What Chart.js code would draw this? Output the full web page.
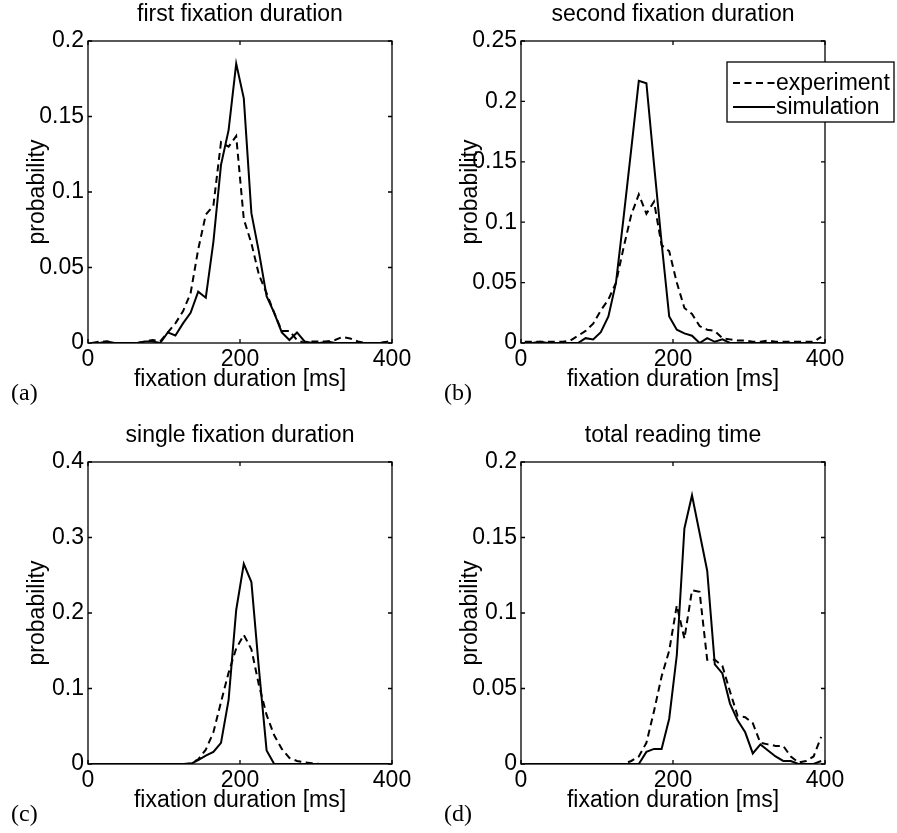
<!DOCTYPE html>
<html><head><meta charset="utf-8">
<script src="https://cdn.jsdelivr.net/npm/chart.js@4.4.1/dist/chart.umd.min.js"></script>
<style>
html,body{margin:0;padding:0;background:#fff;}
body{width:897px;height:833px;position:relative;overflow:hidden;}
canvas{position:absolute;}
</style></head><body>
<canvas id="ca" width="433" height="412" style="left:0px;top:0px"></canvas>
<canvas id="cb" width="464" height="412" style="left:433px;top:0px"></canvas>
<canvas id="cc" width="433" height="412" style="left:0px;top:421px"></canvas>
<canvas id="cd" width="464" height="412" style="left:433px;top:421px"></canvas>
<script>
// ---- data ----
const xBins = [5,15,25,35,45,55,65,75,85,95,105,115,125,135,145,155,165,175,185,195,
               205,215,225,235,245,255,265,275,285,295,305,315,325,335,345,355,365,375,385,395];
const xTickValues = [0, 200, 400];
const xTickLabels = ['0', '200', '400'];
const seriesNames = ['experiment', 'simulation'];

const titles = ['first fixation duration', 'second fixation duration', 'single fixation duration', 'total reading time'];
const panelLetters = ['(a)', '(b)', '(c)', '(d)'];

const yTicksA = [0, 0.05, 0.1, 0.15, 0.2];
const yLabelsA = ['0', '0.05', '0.1', '0.15', '0.2'];
const yTicksB = [0, 0.05, 0.1, 0.15, 0.2, 0.25];
const yLabelsB = ['0', '0.05', '0.1', '0.15', '0.2', '0.25'];
const yTicksC = [0, 0.1, 0.2, 0.3, 0.4];
const yLabelsC = ['0', '0.1', '0.2', '0.3', '0.4'];
const yTicksD = [0, 0.05, 0.1, 0.15, 0.2];
const yLabelsD = ['0', '0.05', '0.1', '0.15', '0.2'];

const expA = [0,0.001,0.001,0,0,0,0,0.001,0.002,0.001, 0.007,0.013,0.021,0.033,0.062,0.085,0.091,0.133,0.130,0.137,
              0.082,0.066,0.045,0.033,0.020,0.008,0.008,0.002,0,0.001, 0.001,0.001,0.002,0.004,0.003,0.001,0,0,0,0.001];
const simA = [0,0,0.001,0,0,0,0,0.001,0.001,0, 0.007,0.005,0.013,0.020,0.034,0.030,0.067,0.118,0.141,0.185,
              0.162,0.086,0.060,0.031,0.020,0.007,0.002,0.007,0.001,0, 0,0.001,0,0,0,0,0,0,0,0.001];

const expB = [0.001,0.001,0.001,0.001,0.001,0.001,0.002,0.006,0.010,0.016, 0.027,0.036,0.050,0.079,0.106,0.123,0.107,0.117,0.081,0.076,
              0.050,0.029,0.024,0.014,0.011,0.010,0.004,0.003,0.002,0.002, 0.001,0.001,0.002,0.001,0.001,0.001,0.001,0.001,0.001,0.005];
const simB = [0,0,0.001,0,0,0,0,0,0.004,0.003, 0.009,0.022,0.050,0.104,0.160,0.217,0.215,0.148,0.083,0.022,
              0.011,0.008,0.006,0,0.004,0.001,0.003,0,0,0, 0,0,0,0,0,0,0,0,0,0];

const expC = [0,0,0,0,0,0,0,0,0,0, 0,0,0,0.001,0.006,0.019,0.042,0.082,0.121,0.153,
              0.171,0.152,0.104,0.065,0.038,0.020,0.008,0.004,0.002,0.001, 0,0,0,0,0,0,0,0,0,0];
const simC = [0,0,0,0,0,0,0,0,0,0, 0,0,0,0,0.005,0.011,0.016,0.028,0.085,0.204,
              0.265,0.241,0.125,0.018,0,0,0,0,0,0, 0,0,0,0,0,0,0,0,0,0];

const expD = [0,0,0,0,0,0,0,0,0,0, 0,0,0,0,0.002,0.005,0.014,0.035,0.058,0.075,
              0.105,0.083,0.115,0.114,0.069,0.069,0.065,0.048,0.032,0.031, 0.027,0.014,0.013,0.012,0.012,0.005,0.001,0.002,0.005,0.018];
const simD = [0,0,0,0,0,0,0,0,0,0, 0,0,0,0,0,0,0.008,0.010,0.010,0.030,
              0.072,0.156,0.178,0.153,0.128,0.066,0.060,0.040,0.029,0.021, 0.007,0.013,0.009,0.005,0.002,0.002,0,0,0,0.002];

// ---- drawing ----
const SANS = "'Liberation Sans', Arial, Helvetica, sans-serif";
const SERIF = "'Liberation Serif', 'Times New Roman', serif";
Chart.defaults.font.family = SANS;
Chart.defaults.color = '#000';

const matlabFrame = {
  id: 'matlabFrame',
  afterDraw(chart, args, opts) {
    const ctx = chart.ctx;
    const a = chart.chartArea;
    const xs = chart.scales.x, ys = chart.scales.y;
    ctx.save();
    ctx.strokeStyle = '#000';
    ctx.lineWidth = 1.3;
    ctx.strokeRect(a.left, a.top, a.right - a.left, a.bottom - a.top);
    const tl = 4;
    ctx.beginPath();
    xs.ticks.forEach(t => {
      const px = xs.getPixelForValue(t.value);
      ctx.moveTo(px, a.bottom); ctx.lineTo(px, a.bottom - tl);
      ctx.moveTo(px, a.top); ctx.lineTo(px, a.top + tl);
    });
    ys.ticks.forEach(t => {
      const py = ys.getPixelForValue(t.value);
      ctx.moveTo(a.left, py); ctx.lineTo(a.left + tl, py);
      ctx.moveTo(a.right, py); ctx.lineTo(a.right - tl, py);
    });
    ctx.stroke();
    // panel letter
    ctx.fillStyle = '#000';
    ctx.font = '24px ' + SERIF;
    ctx.textAlign = 'left';
    ctx.textBaseline = 'alphabetic';
    ctx.fillText(opts.letter, 11, 400);
    // legend
    if (opts.legend) {
      const bx = a.right - 98, by = a.top + 21, bw = 167, bh = 60;
      ctx.fillStyle = '#fff';
      ctx.fillRect(bx, by, bw, bh);
      ctx.lineWidth = 1.3;
      ctx.strokeRect(bx, by, bw, bh);
      const rows = [by + 21, by + 45];
      chart.data.datasets.forEach((ds, i) => {
        const y = rows[i];
        ctx.beginPath();
        ctx.lineWidth = ds.borderWidth;
        ctx.setLineDash(ds.borderDash || []);
        ctx.moveTo(bx + 6, y); ctx.lineTo(bx + 48, y);
        ctx.stroke();
        ctx.setLineDash([]);
        ctx.fillStyle = '#000';
        ctx.font = '23px ' + SANS;
        ctx.textBaseline = 'middle';
        ctx.fillText(ds.label, bx + 49, y + 1);
      });
    }
    ctx.restore();
  }
};

function pts(vals) { return xBins.map((x, i) => ({x: x, y: vals[i]})); }

function makeChart(id, title, letter, yMax, yTicks, yLabels, exp, sim, legend, rightPad) {
  return new Chart(document.getElementById(id), {
    type: 'line',
    data: {
      datasets: [
        {label: seriesNames[0], data: pts(exp), borderColor: '#000', borderWidth: 2, borderDash: [7, 4.5], pointRadius: 0, tension: 0, fill: false},
        {label: seriesNames[1], data: pts(sim), borderColor: '#000', borderWidth: 2, pointRadius: 0, tension: 0, fill: false}
      ]
    },
    options: {
      responsive: false,
      animation: false,
      events: [],
      layout: {padding: {left: 0, top: 0, bottom: 0, right: rightPad}},
      plugins: {
        legend: {display: false},
        tooltip: {enabled: false},
        title: {display: true, text: title, fullSize: false, color: '#000',
                font: {family: SANS, size: 23, weight: 'normal', lineHeight: 1.2},
                padding: {top: 0.9, bottom: 12.5}},
        matlabFrame: {letter: letter, legend: legend}
      },
      scales: {
        x: {
          type: 'linear', min: 0, max: 400,
          grid: {display: false, drawTicks: false, tickLength: 0}, border: {display: false},
          afterBuildTicks: s => { s.ticks = xTickValues.map(v => ({value: v})); },
          ticks: {padding: 3, maxRotation: 0, autoSkip: false, color: '#000',
                  font: {family: SANS, size: 23, lineHeight: 1.2},
                  callback: (v, i) => xTickLabels[i]},
          title: {display: true, text: 'fixation duration [ms]', color: '#000',
                  font: {family: SANS, size: 23, lineHeight: 1.2},
                  padding: {top: 0, bottom: 18.2}},
          afterFit: s => { s.height = 69; }
        },
        y: {
          type: 'linear', min: 0, max: yMax,
          grid: {display: false, drawTicks: false, tickLength: 0}, border: {display: false},
          afterBuildTicks: s => { s.ticks = yTicks.map(v => ({value: v})); },
          ticks: {padding: 4, autoSkip: false, color: '#000',
                  font: {family: SANS, size: 23, lineHeight: 1.2},
                  callback: (v, i) => yLabels[i]},
          title: {display: true, text: 'probability', color: '#000',
                  font: {family: SANS, size: 23, lineHeight: 1.2},
                  padding: {top: 24, bottom: 0}},
          afterFit: s => { s.width = 88; }
        }
      }
    },
    plugins: [matlabFrame]
  });
}

makeChart('ca', titles[0], panelLetters[0], 0.2, yTicksA, yLabelsA, expA, simA, false, 41);
makeChart('cb', titles[1], panelLetters[1], 0.25, yTicksB, yLabelsB, expB, simB, true, 72);
makeChart('cc', titles[2], panelLetters[2], 0.4, yTicksC, yLabelsC, expC, simC, false, 41);
makeChart('cd', titles[3], panelLetters[3], 0.2, yTicksD, yLabelsD, expD, simD, false, 72);
</script>
</body></html>
